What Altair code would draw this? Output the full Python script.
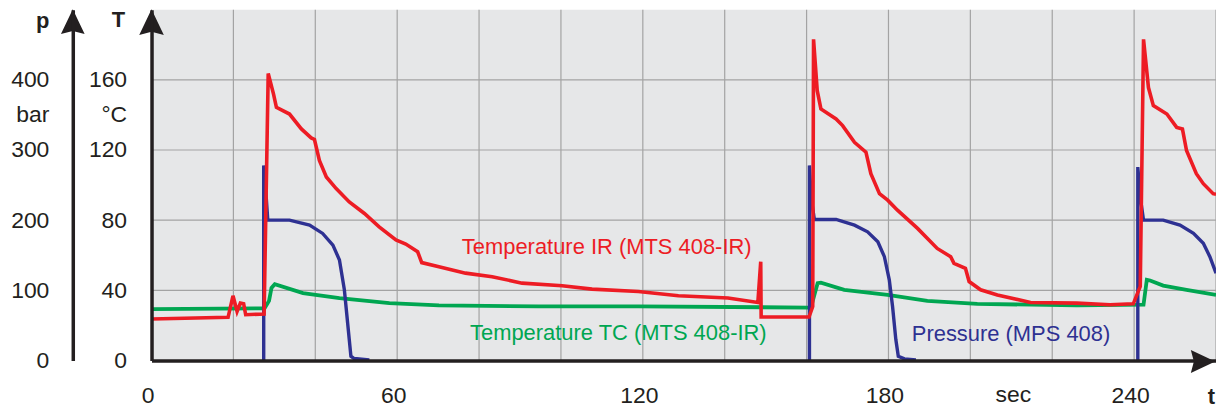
import altair as alt
import pandas as pd

# ---------------- data ----------------
# Temperature IR (MTS 408-IR), °C
ir_t = [0, 18.7, 19.9, 20.9, 21.7, 22.5, 23.0, 27.5, 28.5, 29.8, 30.5, 33.7, 36.6, 39.0, 39.8,
        41.0, 42.7, 45.1, 48.3, 52.0, 55.6, 59.7, 62.1, 65.0, 66.0, 70.2, 76.7, 83.2, 90.5,
        100.3, 107.6, 118.9, 128.7, 140.8, 148.1, 148.8, 148.9, 160.6, 161.5, 161.7, 162.6,
        163.5, 167.2, 168.8, 171.7, 174.5, 175.7, 177.8, 179.8, 182.2, 187.1, 191.9, 195.2,
        196.0, 198.8, 199.7, 202.5, 206.6, 214.7, 226.0, 234.1, 239.8, 241.5, 242.3, 243.5,
        244.7, 248.0, 250.4, 251.8, 252.8, 255.2, 256.9, 259.3, 260.0]
ir_T = [23.7, 24.6, 36.9, 28.0, 32.7, 32.3, 26.1, 26.5, 163.6, 151.9, 144.3, 140.5, 132.0, 126.9,
        126.0, 114.0, 104.6, 98.0, 90.4, 83.8, 76.2, 68.7, 66.4, 62.0, 55.8, 53.5, 49.8, 47.8,
        44.1, 42.6, 40.7, 39.3, 36.9, 35.6, 33.1, 56.3, 24.8, 24.8, 30.8, 183.1, 153.8, 143.4,
        137.7, 133.9, 124.4, 118.8, 106.5, 95.1, 91.4, 85.7, 75.3, 63.9, 59.2, 55.4, 52.6, 45.0,
        40.3, 37.4, 33.1, 32.7, 31.8, 32.3, 42.2, 183.1, 155.6, 145.3, 140.5, 132.9, 132.0,
        119.7, 106.5, 100.8, 95.1, 94.8]

# Temperature TC (MTS 408-IR), °C
tc_t = [0, 27.6, 28.7, 29.3, 30.1, 37.0, 45.9, 58.1, 70.2, 94.6, 118.9, 160.3, 161.1, 161.9,
        162.7, 163.5, 169.2, 179.8, 189.5, 201.7, 226.0, 242.3, 243.1, 243.9, 247.1, 252.8, 260.0]
tc_T = [29.3, 29.7, 34.0, 41.4, 43.5, 38.4, 35.6, 32.7, 31.4, 30.8, 30.8, 30.2, 30.5, 37.4,
        44.1, 44.4, 40.3, 37.4, 34.0, 32.3, 31.4, 31.8, 46.0, 45.6, 42.7, 40.3, 37.4]

# Pressure (MPS 408), bar  -- three injection cycles
p_cycle = [1] * 14 + [2] * 15 + [3] * 10
p_t = [27.4, 27.4, 27.9, 28.4, 33.7, 38.6, 41.8, 44.3, 45.9, 47.1, 47.9, 48.7, 49.5, 53.2,
       160.7, 160.7, 161.1, 161.9, 167.2, 171.7, 174.9, 177.4, 179.0, 180.2, 181.0, 181.8,
       182.4, 183.9, 186.7,
       240.9, 240.9, 241.5, 242.3, 247.1, 251.2, 254.5, 256.9, 258.5, 260.0]
p_bar = [0, 278, 242.6, 200, 200, 192.9, 181.1, 164.5, 143.3, 100.7, 53.5, 6.1, 2.8, 0.7,
         0, 278, 233, 201, 201, 192.9, 183.4, 169.2, 148, 114.9, 77, 29.8, 6.1, 2.4, 0.7,
         0, 275.6, 233, 200, 200, 192.9, 181.1, 167, 148, 124.4]

# axes / grid
x_ticks = [0, 60, 120, 180, 240]
T_ticks = [0, 40, 80, 120, 140, 160]      # 140 carries the unit "°C"
p_ticks = [0, 100, 200, 300, 350, 400]    # 350 carries the unit "bar"
grid_t = [20, 40, 60, 80, 100, 120, 140, 160, 180, 200, 220, 240, 260]
grid_T = [40, 80, 120, 160]

ann_label = ["Temperature IR (MTS 408-IR)", "Temperature TC (MTS 408-IR)", "Pressure (MPS 408)"]
ann_t = [75.8, 77.8, 185.7]
ann_T = [60.6, 11.9, 11.0]
ann_color = ["#ed1c24", "#00a651", "#2e3192"]

# ---------------- styling ----------------
FONT = "Liberation Sans"
INK = "#231f20"
RED, GREEN, BLUE = "#ed1c24", "#00a651", "#2e3192"
GRID = "#a3a3a3"
BG = "#e6e7e8"
W, H = 1068, 352

xs = alt.Scale(domain=[0, 260], nice=False, zero=False)
Ts = alt.Scale(domain=[0, 200], nice=False)
ps = alt.Scale(domain=[0, 500], nice=False)

common_axis = dict(title=None, grid=False, ticks=False, tickSize=0, domainColor=INK,
                   domainWidth=3.5, labelFont=FONT, labelFontSize=23, labelColor=INK,
                   labelFlush=False, labelOverlap=False, zindex=2)
x_axis = alt.Axis(values=x_ticks, labelPadding=42.5, labelBaseline="alphabetic", labelOffset=-4,
                  **common_axis)
T_axis = alt.Axis(values=T_ticks, labelExpr="datum.value == 140 ? '°C' : datum.label",
                  labelPadding=25, **common_axis)
p_axis = alt.Axis(orient="left", offset=79, values=p_ticks,
                  labelExpr="datum.value == 350 ? 'bar' : datum.label",
                  labelPadding=24, **common_axis)

ir = pd.DataFrame({"t": ir_t, "T": ir_T, "i": range(len(ir_t))})
tc = pd.DataFrame({"t": tc_t, "T": tc_T, "i": range(len(tc_t))})
pr = pd.DataFrame({"t": p_t, "p": p_bar, "cycle": p_cycle, "i": range(len(p_t))})
gx = pd.DataFrame({"t": grid_t})
gy = pd.DataFrame({"T": grid_T})
ann = pd.DataFrame({"label": ann_label, "t": ann_t, "T": ann_T, "color": ann_color})
sec = pd.DataFrame({"label": ["sec"], "t": [210.5]})
one = pd.DataFrame({"k": [0]})

X = lambda: alt.X("t:Q", scale=xs, axis=x_axis)

vgrid = alt.Chart(gx).mark_rule(color=GRID, strokeWidth=1.2).encode(x=X())
hgrid = alt.Chart(gy).mark_rule(color=GRID, strokeWidth=1.2).encode(
    y=alt.Y("T:Q", scale=Ts, axis=T_axis))
green = alt.Chart(tc).mark_line(color=GREEN, strokeWidth=3.8).encode(
    x=X(), y=alt.Y("T:Q", scale=Ts, axis=T_axis), order="i:Q")
back = alt.layer(vgrid, hgrid, green)

blue = alt.Chart(pr).mark_line(color=BLUE, strokeWidth=3.4, strokeJoin="miter").encode(
    x=X(), y=alt.Y("p:Q", scale=ps, axis=p_axis), detail="cycle:N", order="i:Q")

red = alt.Chart(ir).mark_line(color=RED, strokeWidth=3.6, strokeJoin="miter").encode(
    x=X(), y=alt.Y("T:Q", scale=Ts, axis=None), order="i:Q")
texts = alt.Chart(ann).mark_text(align="left", baseline="alphabetic", font=FONT,
                                 fontSize=22).encode(
    x=X(), y=alt.Y("T:Q", scale=Ts, axis=None), text="label:N",
    color=alt.Color("color:N", scale=None))
sec_txt = alt.Chart(sec).mark_text(align="center", baseline="alphabetic", font=FONT,
                                   fontSize=23, color=INK).encode(
    x=X(), y=alt.value(393.5), text="label:N")

arrow_up = "M0,-1L0.95,1L0,0.75L-0.95,1Z"
arrow_right = "M1,0L-1,0.95L-0.75,0L-1,-0.95Z"
arrT = alt.Chart(one).mark_point(shape=arrow_up, size=676, filled=True, color=INK,
                                 opacity=1).encode(x=alt.value(0), y=alt.value(12.5))
arrP = alt.Chart(one).mark_point(shape=arrow_up, size=625, filled=True, color=INK,
                                 opacity=1).encode(x=alt.value(-79), y=alt.value(12))
arrX = alt.Chart(one).mark_point(shape=arrow_right, size=600, filled=True, color=INK,
                                 opacity=1).encode(x=alt.value(1055), y=alt.value(353))


def letter(s, x, y):
    return alt.Chart(one).mark_text(text=s, font=FONT, fontSize=22, fontWeight="bold",
                                    color=INK, align="center", baseline="alphabetic").encode(
        x=alt.value(x), y=alt.value(y))


front = alt.layer(red, texts, sec_txt, arrT, arrP, arrX,
                  letter("p", -109.3, 18), letter("T", -33.2, 17.7), letter("t", 1063.5, 396))

chart = (
    alt.layer(back, blue, front)
    .resolve_scale(y="independent")
    .properties(width=W, height=H,
                padding={"left": 144, "top": 1, "right": 0, "bottom": 52},
                autosize=alt.AutoSizeParams(type="none"))
    .configure_view(fill=BG, strokeWidth=0)
)

chart.save("out.html", embed_options={"renderer": "svg", "actions": False})
